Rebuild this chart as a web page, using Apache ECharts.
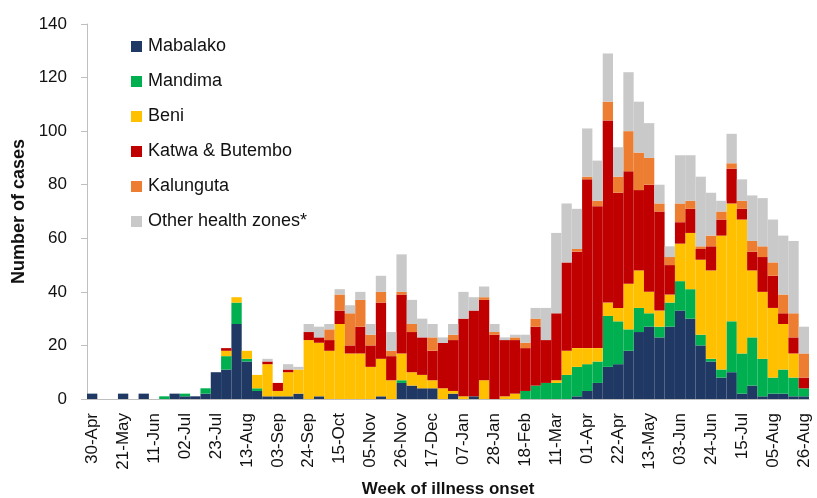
<!DOCTYPE html>
<html lang="en">
<head>
    <meta charset="UTF-8">
    <title>Week of illness onset</title>
    <script src="https://cdn.jsdelivr.net/npm/echarts@6/dist/echarts.min.js"></script>
    <style>
        html, body {margin: 0; padding: 0; background: #fff;}
        #main {width: 817px; height: 498px;}
    </style>
</head>
<body>
<div id="main"></div>
<script type="text/javascript">
    var weeks = ['30-Apr','07-May','14-May','21-May','28-May','04-Jun','11-Jun','18-Jun','25-Jun','02-Jul',
        '09-Jul','16-Jul','23-Jul','30-Jul','06-Aug','13-Aug','20-Aug','27-Aug','03-Sep','10-Sep',
        '17-Sep','24-Sep','01-Oct','08-Oct','15-Oct','22-Oct','29-Oct','05-Nov','12-Nov','19-Nov',
        '26-Nov','03-Dec','10-Dec','17-Dec','24-Dec','31-Dec','07-Jan','14-Jan','21-Jan','28-Jan',
        '04-Feb','11-Feb','18-Feb','25-Feb','04-Mar','11-Mar','18-Mar','25-Mar','01-Apr','08-Apr',
        '15-Apr','22-Apr','29-Apr','06-May','13-May','20-May','27-May','03-Jun','10-Jun','17-Jun',
        '24-Jun','01-Jul','08-Jul','15-Jul','22-Jul','29-Jul','05-Aug','12-Aug','19-Aug','26-Aug'];

    var mabalako = [2,0,0,2,0,2,0,0,2,1, 1,2,10,11,28,14,3,1,1,1, 2,0,1,0,0,0,0,0,1,0,
        6,5,4,4,0,2,0,1,0,0, 0,0,0,0,0,0,0,1,3,6, 12,13,18,25,27,23,27,33,30,20,
        14,8,10,2,5,1,2,2,1,1];
    var mandima = [0,0,0,0,0,0,0,1,0,1, 0,2,0,5,8,1,1,0,0,0, 0,0,0,0,0,0,0,0,0,0,
        1,0,0,0,0,0,0,0,0,0, 0,0,3,5,6,6,9,11,10,8, 19,16,8,9,5,4,9,11,11,4,
        1,3,19,15,18,14,6,9,7,3];
    var beni = [0,0,0,0,0,0,0,0,0,0, 0,0,0,2,2,3,5,12,2,9, 9,22,20,18,28,17,17,12,14,7,
        10,5,5,3,4,1,1,0,7,0, 1,2,0,0,0,1,9,7,6,5, 5,5,17,14,8,6,3,14,21,28,
        33,50,44,50,25,25,26,17,9,0];
    var katwa = [0,0,0,0,0,0,0,0,0,0, 0,0,0,1,0,0,0,1,3,1, 0,3,2,4,5,3,10,8,21,9,
        22,15,14,11,17,19,29,32,30,24, 21,20,16,22,16,25,33,36,63,53, 68,43,42,30,40,37,11,8,9,4,
        9,6,13,4,7,13,12,4,6,4];
    var kalunguta = [0,0,0,0,0,0,0,0,0,0, 0,0,0,0,0,0,0,0,0,0, 0,0,0,4,6,12,10,4,4,2,
        1,3,0,5,0,2,0,0,1,1, 0,1,2,3,0,0,0,1,1,2, 7,6,15,14,10,3,3,7,3,1,
        4,3,2,3,4,4,5,7,9,9];
    var otherZones = [0,0,0,0,0,0,0,0,0,0, 0,0,0,0,0,0,0,1,0,2, 1,3,4,2,2,3,3,4,6,7,
        14,9,7,5,2,4,10,5,4,3, 1,1,3,4,12,30,22,15,18,15, 18,11,22,19,13,7,4,18,17,26,
        16,4,11,8,17,18,16,22,27,10];

    var seriesNames = ['Mabalako','Mandima','Beni','Katwa & Butembo','Kalunguta','Other health zones*'];
    var seriesColors = ['#1f3864','#00b050','#ffc000','#c00000','#ed7d31','#c9c9c9'];
    var seriesData = [mabalako, mandima, beni, katwa, kalunguta, otherZones];
    var yTicks = {min: 0, max: 140, step: 20};

    var fontName = '"Liberation Sans", Arial, sans-serif';
    var textColor = '#111111';
    var lineColor = '#bfbfbf';

    var myChart = echarts.init(document.getElementById('main'), null, {renderer: 'canvas'});

    var series = [];
    for (var i = 0; i < seriesData.length; i++) {
        series.push({
            name: seriesNames[i],
            type: 'bar',
            stack: 'cases',
            data: seriesData[i],
            barCategoryGap: '0%',
            barGap: '0%',
            itemStyle: {color: seriesColors[i]},
            emphasis: {disabled: true}
        });
    }

    var option = {
        animation: false,
        textStyle: {fontFamily: fontName},
        legend: {
            orient: 'vertical',
            left: 131,
            top: 36,
            padding: 0,
            icon: 'rect',
            itemWidth: 11,
            itemHeight: 11,
            itemGap: 14,
            data: seriesNames,
            textStyle: {fontSize: 18, lineHeight: 21, color: textColor, fontFamily: fontName, padding: [0, 0, 0, 1]}
        },
        grid: {left: 87, right: 8, top: 24, bottom: 99, containLabel: false, outerBoundsMode: 'none'},
        xAxis: {
            type: 'category',
            data: weeks,
            name: 'Week of illness onset',
            nameLocation: 'middle',
            nameGap: 82,
            nameTextStyle: {fontSize: 17, fontWeight: 'bold', color: textColor, fontFamily: fontName},
            axisLine: {lineStyle: {color: lineColor, width: 1}},
            axisTick: {interval: 0, length: 6, lineStyle: {color: lineColor}},
            axisLabel: {interval: 2, rotate: 90, fontSize: 17, color: textColor, margin: 14, fontFamily: fontName}
        },
        yAxis: {
            type: 'value',
            min: yTicks.min,
            max: yTicks.max,
            interval: yTicks.step,
            name: 'Number of cases',
            nameLocation: 'middle',
            nameGap: 51,
            nameTextStyle: {fontSize: 18, fontWeight: 'bold', color: textColor, fontFamily: fontName},
            axisLine: {show: true, lineStyle: {color: lineColor, width: 1}},
            axisTick: {show: true, length: 6, lineStyle: {color: lineColor}},
            axisLabel: {fontSize: 17, color: textColor, margin: 20, fontFamily: fontName},
            splitLine: {show: false}
        },
        series: series
    };

    myChart.setOption(option);
</script>
</body>
</html>
